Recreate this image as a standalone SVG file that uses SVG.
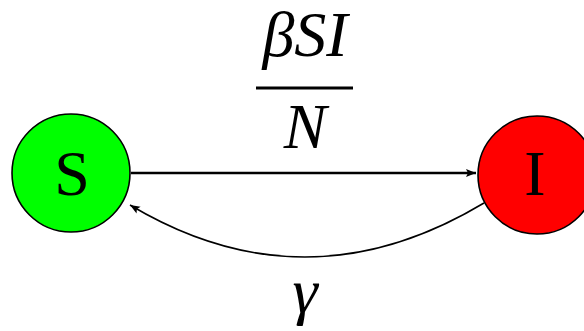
<svg xmlns="http://www.w3.org/2000/svg" width="584" height="331" viewBox="0 0 584 331">
<style>
.node{stroke:#000;stroke-width:1.6}
.lbl{font-family:"Liberation Serif","Times New Roman",serif;font-size:64px;fill:#000;text-anchor:middle}
.math{font-style:italic}
.edge{fill:none;stroke:#000}
</style>
<defs>
<marker id="ah" viewBox="0 0 10 10" refX="10" refY="5" markerWidth="10" markerHeight="10" markerUnits="userSpaceOnUse" orient="auto">
<path d="M0,1 L10,5 L0,9 L2,5 Z" fill="#000"/>
</marker>
</defs>
<g id="connectors">
<path class="edge" d="M131,173 L476,173" stroke-width="2.6" marker-end="url(#ah)"/>
<path class="edge" d="M484,203 Q306,310 130,205" stroke-width="1.5" marker-end="url(#ah)"/>
</g>
<g id="node-S">
<circle class="node" cx="71" cy="173" r="59" fill="#00ff00"/>
<text class="lbl" x="72" y="195">S</text>
</g>
<g id="node-I">
<circle class="node" cx="537" cy="175" r="59" fill="#ff0000"/>
<text class="lbl" x="535" y="195">I</text>
</g>
<g id="label-rate">
<text class="lbl math" x="305" y="56" font-size="60">βSI</text>
<line x1="256" y1="88" x2="353" y2="88" stroke="#000" stroke-width="3"/>
<text class="lbl math" x="305" y="148">N</text>
</g>
<g id="label-gamma">
<text class="lbl math" x="305" y="312">γ</text>
</g>
</svg>
